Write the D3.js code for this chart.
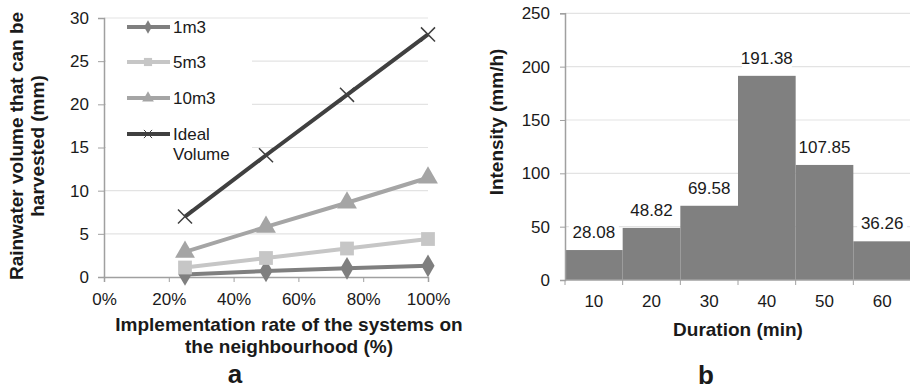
<!DOCTYPE html>
<html>
<head>
<meta charset="utf-8">
<style>
    body { margin: 0; background: #fff; }
    svg { display: block; font-family: 'Liberation Sans', Arial, sans-serif; }
    .tick text { font-size: 17px; fill: #1a1a1a; }
    .axis .domain { stroke: #a0a0a0; stroke-width: 1.5px; }
    .axis .tick line { stroke: #a0a0a0; }
    .grid line { stroke: #e3e3e3; stroke-width: 1.2px; }
    .title { font-size: 19px; font-weight: bold; fill: #1a1a1a; }
    .panel { font-size: 26px; font-weight: bold; fill: #1a1a1a; }
    .lbl { font-size: 17px; fill: #1a1a1a; }
</style>
</head>
<body>
<svg width="910" height="392"></svg>

<script src="https://d3js.org/d3.v7.min.js"></script>
<script>
    // chart a: harvested volume vs implementation rate
    let rates = [0.25, 0.5, 0.75, 1.0]
    let vol1m3 = [0.3, 0.7, 1.0, 1.3]
    let vol5m3 = [1.1, 2.2, 3.3, 4.4]
    let vol10m3 = [2.9, 5.8, 8.6, 11.5]
    let volIdeal = [7.0, 14.1, 21.1, 28.1]
    let rateTicks = [0, 0.2, 0.4, 0.6, 0.8, 1.0]
    let volTicks = [0, 5, 10, 15, 20, 25, 30]

    // chart b: intensity by duration
    let durations = ["10", "20", "30", "40", "50", "60"]
    let intensity = [28.08, 48.82, 69.58, 191.38, 107.85, 36.26]
    let intensityTicks = [0, 50, 100, 150, 200, 250]

    let svg = d3.select("svg")

    // ---------- chart a ----------
    let xA = d3.scaleLinear().domain([0, 1]).range([104, 428])
    let yA = d3.scaleLinear().domain([0, 30]).range([277, 18])

    let gA = svg.append("g")

    gA.append("g")
        .attr("class", "grid")
        .selectAll("line")
        .data(volTicks.filter(d => d > 0))
        .join("line")
        .attr("x1", xA(0)).attr("x2", xA(1))
        .attr("y1", d => yA(d)).attr("y2", d => yA(d))

    gA.append("g")
        .attr("class", "axis")
        .attr("transform", `translate(${xA(0)},0)`)
        .call(d3.axisLeft(yA).tickValues(volTicks).tickSize(6).tickPadding(9))

    gA.append("g")
        .attr("class", "axis")
        .attr("transform", `translate(0,${yA(0)})`)
        .call(d3.axisBottom(xA).tickValues(rateTicks).tickSize(5).tickPadding(11)
            .tickFormat(d3.format(".0%")))

    // legend box hides part of the grid
    gA.append("rect")
        .attr("x", xA(0) + 2).attr("y", 22)
        .attr("width", 146).attr("height", 143)
        .attr("fill", "#fff")

    let seriesA = [
        { name: "1m3", values: vol1m3, color: "#7f7f7f", shape: d3.symbolDiamond, size: 150 },
        { name: "5m3", values: vol5m3, color: "#c6c6c6", shape: d3.symbolSquare, size: 190 },
        { name: "10m3", values: vol10m3, color: "#a5a5a5", shape: d3.symbolTriangle, size: 170 },
        { name: "Ideal", values: volIdeal, color: "#404040", shape: d3.symbolX, size: 130 }
    ]

    let line = d3.line()
        .x((d, i) => xA(rates[i]))
        .y(d => yA(d))

    seriesA.forEach(s => {
        gA.append("path")
            .attr("d", line(s.values))
            .attr("fill", "none")
            .attr("stroke", s.color)
            .attr("stroke-width", 4)

        gA.selectAll(null)
            .data(s.values)
            .join("path")
            .attr("transform", (d, i) => `translate(${xA(rates[i])},${yA(d)})`)
            .attr("d", d3.symbol().type(s.shape).size(s.size))
            .attr("fill", s.shape == d3.symbolX ? "none" : s.color)
            .attr("stroke", s.color)
            .attr("stroke-width", s.shape == d3.symbolX ? 1.5 : 0)
    })

    // legend
    let legendY = [27, 62, 98, 134]
    seriesA.forEach((s, i) => {
        let lg = gA.append("g").attr("transform", `translate(127,${legendY[i]})`)
        lg.append("line")
            .attr("x1", 0).attr("x2", 43)
            .attr("stroke", s.color).attr("stroke-width", 4)
        lg.append("path")
            .attr("transform", "translate(21,0)")
            .attr("d", d3.symbol().type(s.shape).size(s.size * 0.35))
            .attr("fill", s.shape == d3.symbolX ? "none" : s.color)
            .attr("stroke", s.color)
            .attr("stroke-width", s.shape == d3.symbolX ? 1 : 0)
        let t = lg.append("text")
            .attr("class", "lbl")
            .attr("x", 46).attr("y", 6)
        if (s.name == "Ideal") {
            t.append("tspan").text("Ideal")
            t.append("tspan").attr("x", 46).attr("dy", 20).text("Volume")
        } else {
            t.text(s.name)
        }
    })

    let yTitleA = gA.append("text")
        .attr("class", "title")
        .attr("text-anchor", "middle")
        .attr("transform", "translate(23,146) rotate(-90)")
    yTitleA.append("tspan").attr("x", 0).attr("dy", 0).text("Rainwater volume that can be")
    yTitleA.append("tspan").attr("x", 0).attr("dy", 21).text("harvested (mm)")

    gA.append("text").attr("class", "title").attr("text-anchor", "middle")
        .attr("x", 289).attr("y", 331).text("Implementation rate of the systems on")
    gA.append("text").attr("class", "title").attr("text-anchor", "middle")
        .attr("x", 289).attr("y", 353).text("the neighbourhood (%)")
    gA.append("text").attr("class", "panel").attr("text-anchor", "middle")
        .attr("x", 235).attr("y", 383).text("a")

    // ---------- chart b ----------
    let xB = d3.scaleBand().domain(durations).range([565, 911]).padding(0)
    let yB = d3.scaleLinear().domain([0, 250]).range([280, 13.3])

    let gB = svg.append("g")

    gB.append("g")
        .attr("class", "grid")
        .selectAll("line")
        .data(intensityTicks.filter(d => d > 0))
        .join("line")
        .attr("x1", 565).attr("x2", 910)
        .attr("y1", d => yB(d)).attr("y2", d => yB(d))

    gB.selectAll(".bar")
        .data(intensity)
        .join("rect")
        .attr("class", "bar")
        .attr("x", (d, i) => xB(durations[i]))
        .attr("y", d => yB(d))
        .attr("width", xB.bandwidth())
        .attr("height", d => yB(0) - yB(d))
        .attr("fill", "#808080")

    // value labels with white boxes
    let labels = gB.selectAll(".lab")
        .data(intensity)
        .join("g")
        .attr("class", "lab")
        .attr("transform", (d, i) => `translate(${xB(durations[i]) + xB.bandwidth() / 2},${yB(d) - 12})`)
    labels.append("rect")
        .attr("x", -25).attr("y", -16)
        .attr("width", 50).attr("height", 22)
        .attr("fill", "#fff")
    labels.append("text")
        .attr("class", "lbl")
        .attr("text-anchor", "middle")
        .text(d => d3.format(".2f")(d))

    gB.append("g")
        .attr("class", "axis")
        .attr("transform", "translate(565,0)")
        .call(d3.axisLeft(yB).tickValues(intensityTicks).tickSize(5).tickPadding(10))

    let xAxisB = gB.append("g")
        .attr("class", "axis")
        .attr("transform", `translate(0,${yB(0)})`)
        .call(d3.axisBottom(xB).tickSize(0).tickPadding(15))
    xAxisB.select(".domain").attr("d", "M565,0H911")
    xAxisB.selectAll(".sep")
        .data(durations)
        .join("line")
        .attr("class", "sep")
        .attr("x1", d => xB(d)).attr("x2", d => xB(d))
        .attr("y1", 0).attr("y2", 5)
        .attr("stroke", "#a0a0a0")

    gB.append("text").attr("class", "title")
        .attr("text-anchor", "middle")
        .attr("transform", "translate(503,122) rotate(-90)")
        .text("Intensity (mm/h)")
    gB.append("text").attr("class", "title").attr("text-anchor", "middle")
        .attr("x", 738).attr("y", 336).text("Duration (min)")
    gB.append("text").attr("class", "panel").attr("text-anchor", "middle")
        .attr("x", 706).attr("y", 384).text("b")
</script>
</body>
</html>
